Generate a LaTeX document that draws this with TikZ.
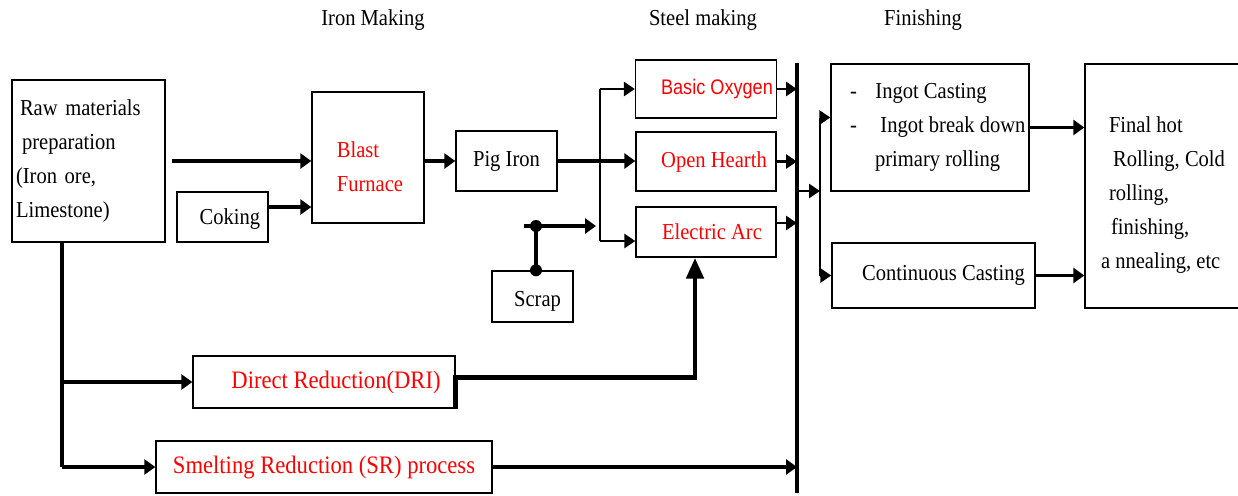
\documentclass[tikz,border=0pt]{standalone}
\usepackage{fontspec}
\setmainfont[FakeStretch=0.9]{Liberation Serif}
\newfontfamily\arialfont[FakeStretch=0.86]{Liberation Sans}
\usepackage{xcolor}
\usetikzlibrary{positioning,calc,arrows.meta}
\definecolor{procred}{HTML}{FF0000}
\newcommand{\padtop}[1]{\rule{0pt}{#1}}

\tikzset{
  stagebox/.style={draw, line width=0.8pt, inner sep=2pt, align=left,
    font=\fontsize{13}{19.4}\selectfont},
  redtext/.style={text=procred},
  bigred/.style={text=procred, font=\fontsize{14.3}{19.4}\selectfont},
  flow/.style={line width=2pt, -{Triangle[length=0.22cm,width=0.3cm]}},
  smallflow/.style={line width=1.6pt, -{Triangle[length=0.22cm,width=0.28cm]}},
  stagetitle/.style={font=\fontsize{13}{15}\selectfont}
}

\begin{document}
\begin{tikzpicture}[x=0.02cm, y=-0.02cm]
  \useasboundingbox (0,0) rectangle (1238,495);

  % Stage titles
  \node[stagetitle] (tIron) at (373,20) {Iron Making};
  \node[stagetitle] (tSteel) at (703,20) {Steel making};
  \node[stagetitle] (tFin) at (923,20) {Finishing};

  % Iron making
  \node[stagebox, text width=2.9cm, minimum width=3.06cm, minimum height=3.24cm] (raw) at (88.5,161)
    {\hspace{0.08cm}Raw materials\\\hspace{0.12cm}preparation\\(Iron ore,\\Limestone)};
  \node[stagebox, minimum width=1.82cm, minimum height=1.0cm] (coke) at (222.5,217) {\hspace{0.3cm}\padtop{0.4cm}Coking};
  \node[stagebox, redtext, minimum width=2.24cm, minimum height=2.62cm] (blast) at (368,157.5)
    {\padtop{0.67cm}\hspace{0.08cm}Blast\\\hspace{0.08cm}Furnace};
  \node[stagebox, minimum width=2.02cm, minimum height=1.2cm] (pig) at (506.5,161) {Pig Iron};
  \node[stagebox, minimum width=1.62cm, minimum height=1.02cm] (scrap) at (532.5,296.5) {\hspace{0.2cm}\padtop{0.5cm}Scrap};
  \node[stagebox, bigred, minimum width=5.24cm, minimum height=1.04cm] (dri) at (324,382)
    {\hspace{0.48cm}Direct Reduction(DRI)};
  \node[stagebox, bigred, minimum width=6.72cm, minimum height=1.04cm] (sr) at (324,467)
    {Smelting Reduction (SR) process};

  % Steel making
  \node[stagebox, redtext, font=\arialfont\fontsize{12}{14}\selectfont,
    minimum width=2.8cm, minimum height=1.16cm] (bof) at (706,89) {\hspace{0.44cm}Basic Oxygen};
  \node[stagebox, redtext, minimum width=2.8cm, minimum height=1.18cm] (ohf) at (706,161.5) {\hspace{0.32cm}Open Hearth};
  \node[stagebox, redtext, minimum width=2.8cm, minimum height=1.0cm] (eaf) at (706,232) {\hspace{0.24cm}Electric Arc};

  % Finishing
  \node[stagebox, minimum width=3.92cm, minimum height=2.54cm] (ingot) at (930,127.5)
    {\hspace{0.31cm}-\hspace{0.37cm}Ingot Casting\\\hspace{0.31cm}-\hspace{0.47cm}Ingot break down\\\hspace{0.81cm}primary rolling};
  \node[stagebox, minimum width=4.06cm, minimum height=1.3cm] (cc) at (933.5,275.5) {\hspace{0.4cm}Continuous Casting};
  \node[stagebox, minimum width=3.12cm, minimum height=4.88cm] (fin) at (1163,186)
    {\padtop{0.67cm}\hspace{0.16cm}Final hot\\\hspace{0.24cm}Rolling, Cold\\\hspace{0.16cm}rolling,\\\hspace{0.2cm}finishing,\\a nnealing, etc};

  % Junction points
  \coordinate (trunk) at ([xshift=-0.53cm]raw.south);
  \coordinate (split) at (600,161);
  \coordinate (sdot) at (536,226);
  \coordinate (bustop) at (797,63);
  \coordinate (busbot) at (797,493);
  \coordinate (split2) at (820,191);

  % Iron making flows
  \draw[flow] ([xshift=0.12cm]raw.east) -- (raw.east -| blast.west);
  \draw[flow] ([yshift=0.2cm]coke.east) -- ([yshift=0.2cm]coke.east -| blast.west);
  \draw[flow] (blast.east |- pig.west) -- (pig.west);
  \draw[flow] (pig.east) -- (pig.east -| ohf.west);

  % Pig iron splitter
  \draw[line width=1.4pt] (split |- bof.west) -- ([yshift=-0.18cm]split |- eaf.west);
  \draw[smallflow] (split |- bof.west) -- (bof.west);
  \draw[smallflow] ([yshift=-0.18cm]split |- eaf.west) -- ([yshift=-0.18cm]eaf.west);

  % Scrap
  \draw[line width=2.4pt] (sdot) -- (sdot |- scrap.north);
  \fill (sdot) circle (6);
  \fill (sdot |- scrap.north) circle (6);
  \draw[flow] ([xshift=-0.24cm]sdot) -- ([xshift=-0.08cm]sdot -| split);

  % Raw materials trunk
  \draw[line width=2.4pt] (trunk) -- (trunk |- sr.west);
  \draw[flow] (trunk |- dri.west) -- (dri.west);
  \draw[flow] (trunk |- sr.west) -- (sr.west);

  % DRI to electric arc
  \draw[line width=2.8pt, -{Triangle[length=0.42cm,width=0.34cm]}]
    (dri.south east) -- ++(0,-31) -| ([xshift=-0.22cm]eaf.south);

  % Collecting bus
  \draw[line width=2.4pt] (bustop) -- (busbot);
  \draw[smallflow] (bof.east) -- (bof.east -| bustop);
  \draw[smallflow] (ohf.east) -- (ohf.east -| bustop);
  \draw[smallflow] ([yshift=0.18cm]eaf.east) -- ([yshift=0.18cm]eaf.east -| bustop);
  \draw[flow] (sr.east) -- (sr.east -| bustop);

  % Casting split
  \draw[smallflow] (bustop |- split2) -- (split2);
  \draw[line width=1.4pt] ([yshift=0.2cm]split2 |- ingot.west) -- (split2 |- cc.west);
  \draw[smallflow] ([yshift=0.2cm]split2 |- ingot.west) -- ([yshift=0.2cm]ingot.west);
  \draw[smallflow] (split2 |- cc.west) -- (cc.west);

  % Finishing flows
  \draw[flow] (ingot.east) -- (ingot.east -| fin.west);
  \draw[flow] (cc.east) -- (cc.east -| fin.west);
\end{tikzpicture}
\end{document}
